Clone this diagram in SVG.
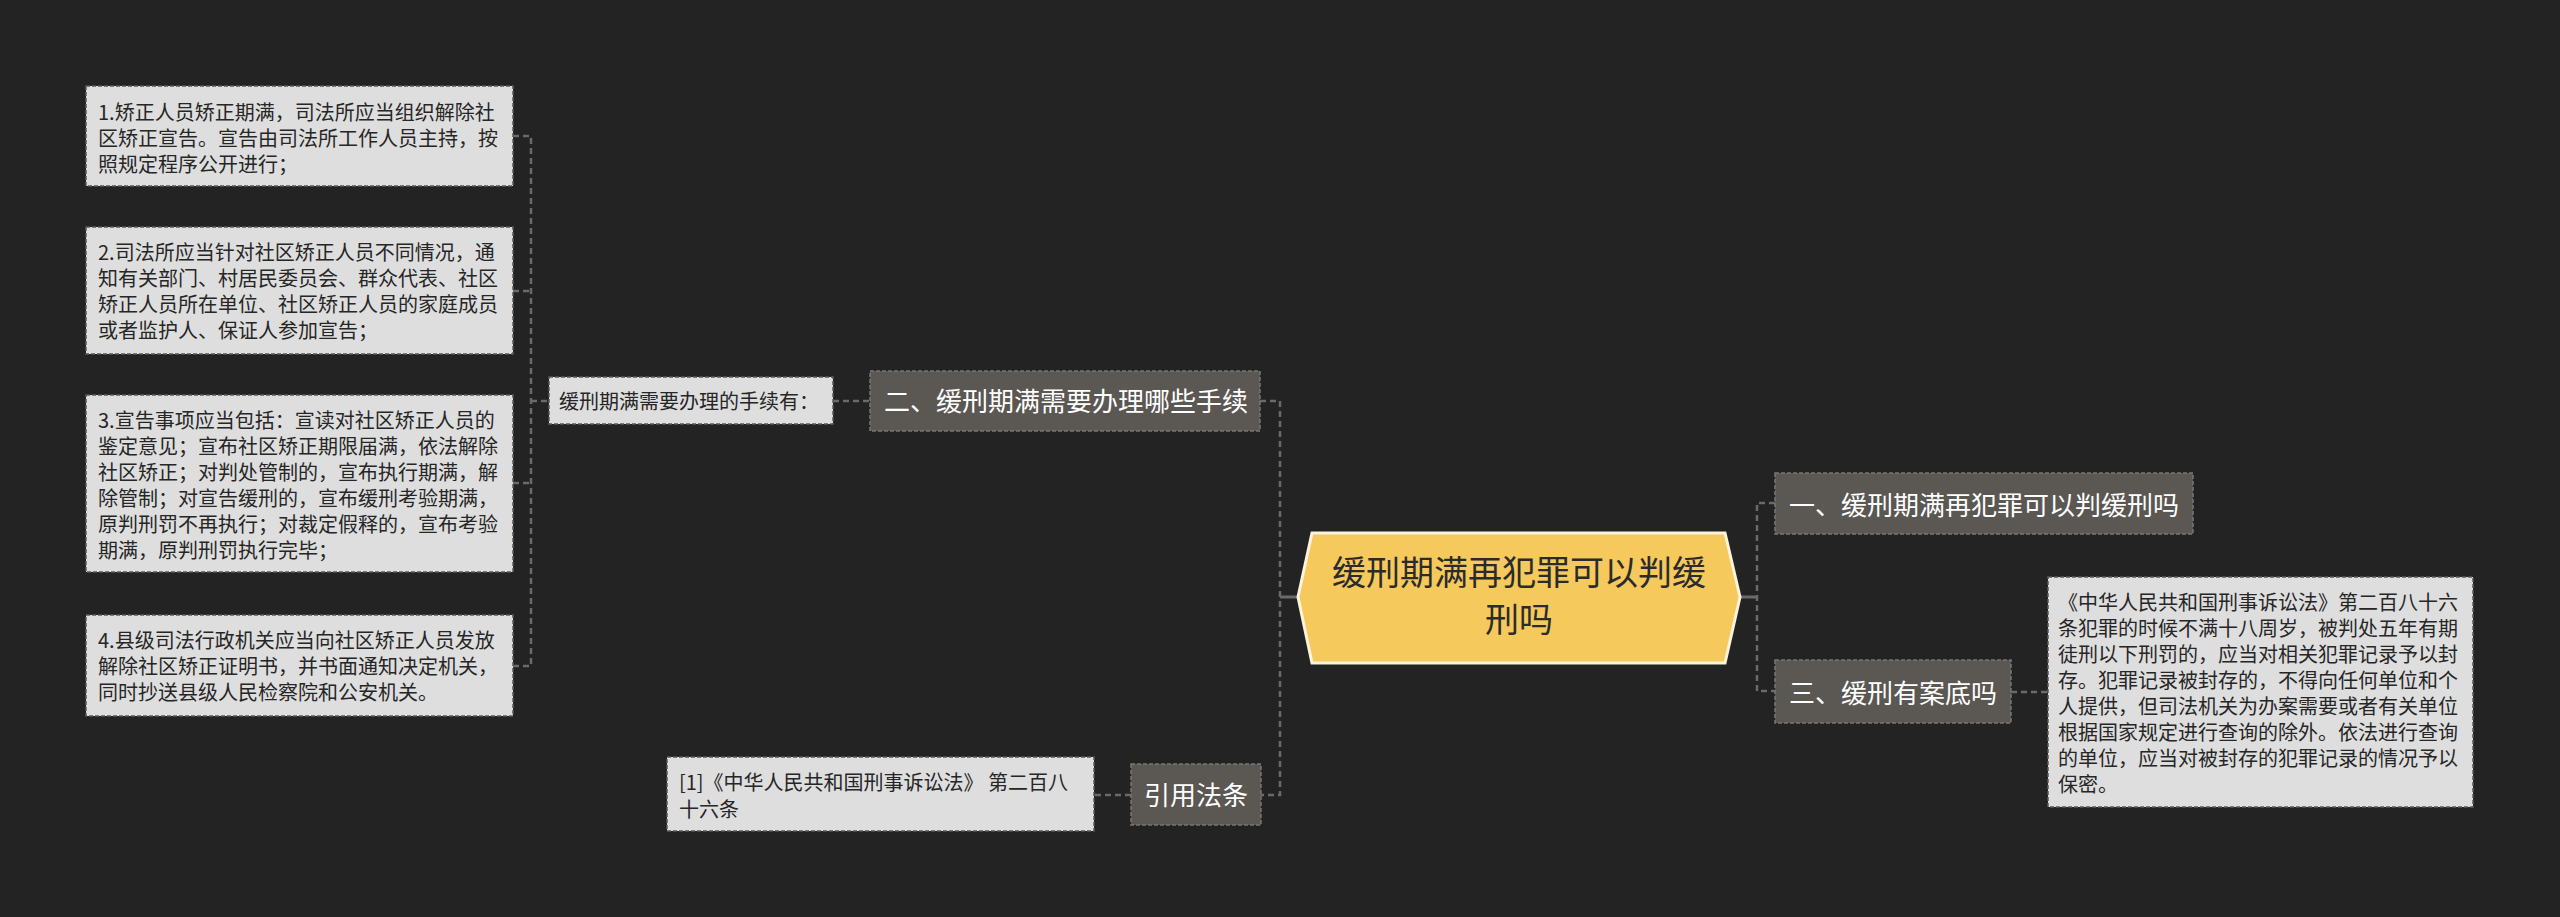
<svg xmlns="http://www.w3.org/2000/svg" width="2560" height="917" viewBox="0 0 2560 917">
<style>
.bg{fill:#232323}
.leaf rect{fill:#dedede;stroke:#5a5a5a;stroke-width:1.5;stroke-dasharray:4 2}
.leaf text{font-family:"Noto Sans CJK SC","Noto Sans",sans-serif;font-size:20px;fill:#262626}
.l1 rect{fill:#5b5753;stroke:#7a7672;stroke-width:1.5;stroke-dasharray:4 2}
.l1 text{font-family:"Noto Sans CJK SC","Noto Sans",sans-serif;font-size:26px;fill:#ffffff}
.root polygon{fill:#f5c95b;stroke:#fbf3dc;stroke-width:3}
.root text{font-family:"Noto Sans CJK SC","Noto Sans",sans-serif;font-size:34px;fill:#2b2b2b;text-anchor:middle}
.dash{fill:none;stroke:#6a6a6a;stroke-width:2.5;stroke-dasharray:6 4}
.solid{fill:none;stroke:#6a6a6a;stroke-width:3}
</style>
<rect class="bg" x="0" y="0" width="2560" height="917"/>
<g id="connectors">
<path class="dash" d="M513,136 H531 V666 H513"/>
<path class="dash" d="M513,291 H531"/>
<path class="dash" d="M513,483 H531"/>
<path class="dash" d="M531,401 H549"/>
<path class="dash" d="M833,401 H870"/>
<path class="dash" d="M1260,401 H1280 V795 H1261"/>
<path class="solid" d="M1280,597 H1298"/>
<path class="dash" d="M1131,795 H1094"/>
<path class="solid" d="M1740,597 H1757"/>
<path class="dash" d="M1775,503 H1757 V691 H1775"/>
<path class="dash" d="M2011,692 H2048"/>
</g>
<g id="root" class="root">
<polygon points="1298,597 1312,533 1725,533 1740,597 1725,663 1312,663"/>
<text x="1519" y="585">缓刑期满再犯罪可以判缓</text>
<text x="1519" y="632">刑吗</text>
</g>
<g id="n-yi" class="l1">
<rect x="1775" y="473" width="418" height="61"/>
<text x="1789" y="515">一、缓刑期满再犯罪可以判缓刑吗</text>
</g>
<g id="n-san" class="l1">
<rect x="1775" y="660" width="236" height="63"/>
<text x="1789" y="703">三、缓刑有案底吗</text>
</g>
<g id="n-san-leaf" class="leaf">
<rect x="2048" y="577" width="425" height="230"/>
<text x="2058" y="610">《中华人民共和国刑事诉讼法》第二百八十六</text>
<text x="2058" y="636">条犯罪的时候不满十八周岁，被判处五年有期</text>
<text x="2058" y="662">徒刑以下刑罚的，应当对相关犯罪记录予以封</text>
<text x="2058" y="688">存。犯罪记录被封存的，不得向任何单位和个</text>
<text x="2058" y="714">人提供，但司法机关为办案需要或者有关单位</text>
<text x="2058" y="740">根据国家规定进行查询的除外。依法进行查询</text>
<text x="2058" y="766">的单位，应当对被封存的犯罪记录的情况予以</text>
<text x="2058" y="792">保密。</text>
</g>
<g id="n-er" class="l1">
<rect x="870" y="371" width="390" height="60"/>
<text x="884" y="411">二、缓刑期满需要办理哪些手续</text>
</g>
<g id="n-er-mid" class="leaf">
<rect x="549" y="377" width="284" height="47"/>
<text x="559" y="409">缓刑期满需要办理的手续有：</text>
</g>
<g id="leaf-1" class="leaf">
<rect x="86" y="86" width="427" height="100"/>
<text x="98" y="120">1.矫正人员矫正期满，司法所应当组织解除社</text>
<text x="98" y="146">区矫正宣告。宣告由司法所工作人员主持，按</text>
<text x="98" y="172">照规定程序公开进行；</text>
</g>
<g id="leaf-2" class="leaf">
<rect x="86" y="227" width="427" height="127"/>
<text x="98" y="260">2.司法所应当针对社区矫正人员不同情况，通</text>
<text x="98" y="286">知有关部门、村居民委员会、群众代表、社区</text>
<text x="98" y="312">矫正人员所在单位、社区矫正人员的家庭成员</text>
<text x="98" y="338">或者监护人、保证人参加宣告；</text>
</g>
<g id="leaf-3" class="leaf">
<rect x="86" y="395" width="427" height="177"/>
<text x="98" y="428">3.宣告事项应当包括：宣读对社区矫正人员的</text>
<text x="98" y="454">鉴定意见；宣布社区矫正期限届满，依法解除</text>
<text x="98" y="480">社区矫正；对判处管制的，宣布执行期满，解</text>
<text x="98" y="506">除管制；对宣告缓刑的，宣布缓刑考验期满，</text>
<text x="98" y="532">原判刑罚不再执行；对裁定假释的，宣布考验</text>
<text x="98" y="558">期满，原判刑罚执行完毕；</text>
</g>
<g id="leaf-4" class="leaf">
<rect x="86" y="615" width="427" height="101"/>
<text x="98" y="648">4.县级司法行政机关应当向社区矫正人员发放</text>
<text x="98" y="674">解除社区矫正证明书，并书面通知决定机关，</text>
<text x="98" y="700">同时抄送县级人民检察院和公安机关。</text>
</g>
<g id="n-cite" class="l1">
<rect x="1131" y="764" width="130" height="61"/>
<text x="1196" y="805" text-anchor="middle">引用法条</text>
</g>
<g id="n-cite-leaf" class="leaf">
<rect x="667" y="757" width="427" height="74"/>
<text x="679" y="790">[1]《中华人民共和国刑事诉讼法》 第二百八</text>
<text x="679" y="817">十六条</text>
</g>
</svg>
